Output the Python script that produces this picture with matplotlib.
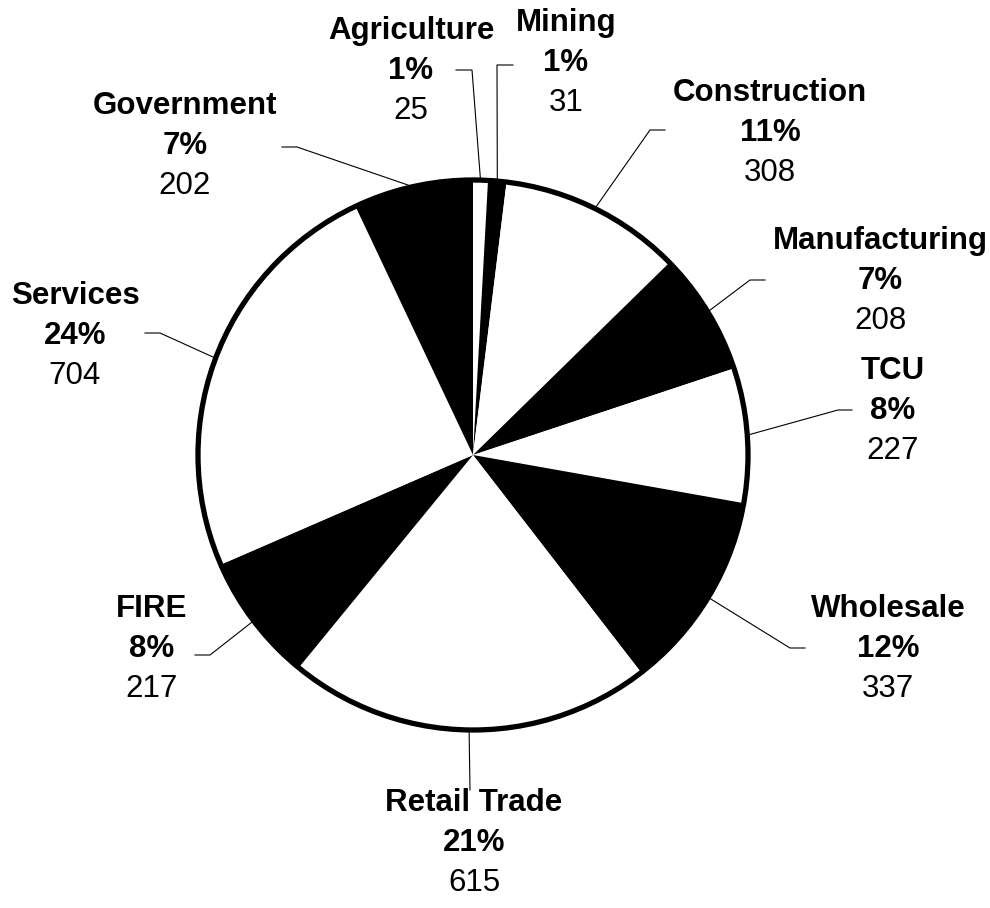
import numpy as np
import matplotlib.pyplot as plt
from matplotlib.patches import Circle

plt.rcParams['font.family'] = ['Liberation Sans', 'DejaVu Sans']

sectors = ["Agriculture", "Mining", "Construction", "Manufacturing", "TCU",
           "Wholesale", "Retail Trade", "FIRE", "Services", "Government"]
jobs = [25, 31, 308, 208, 227, 337, 615, 217, 704, 202]
pcts = ["1%", "1%", "11%", "7%", "8%", "12%", "21%", "8%", "24%", "7%"]

# layout (pixel coords, y from top): label centre x, top line y, elbow, end of leader
label_xy = [(411, 31), (566, 23), (770, 93), (880, 241), (893, 371),
            (888, 609), (474, 803), (152, 609), (75, 296), (185, 106)]
elbows = [(472, 70), (497, 65), (650, 130), (750, 280), (838, 410),
          (790, 648), (470, 790), (210, 655), (160, 333), (297, 147)]
ends = [(456, 70), (513, 65), (665, 130), (765, 280), (852, 410),
        (805, 648), (470, 790), (195, 655), (145, 333), (282, 147)]

W, H = 990, 908
cx, cy, R = 473, 455, 275

fig = plt.figure(figsize=(9.9, 9.08), dpi=100)
ax = fig.add_axes([0, 0, 1, 1])

colors = ['white' if i % 2 == 0 else 'black' for i in range(len(jobs))]
ax.pie(jobs, colors=colors, startangle=90, counterclock=False,
       center=(cx, H - cy), radius=R, wedgeprops=dict(linewidth=0),
       frame=True)
ax.set_xlim(0, W)
ax.set_ylim(0, H)
ax.set_aspect('equal')
ax.axis('off')
ax.add_patch(Circle((cx, H - cy), R, fill=False, edgecolor='black', lw=3.8, zorder=3))

total = sum(jobs)
cum = np.cumsum([0] + jobs)
for i, name in enumerate(sectors):
    mid = (cum[i] + jobs[i] / 2) / total * 2 * np.pi
    sx = cx + R * np.sin(mid)
    sy = cy - R * np.cos(mid)
    ex, ey = elbows[i]
    tx, ty = ends[i]
    ax.plot([sx, ex, tx], [H - sy, H - ey, H - ty], color='black', lw=0.8, zorder=2)
    lx, ly = label_xy[i]
    ax.text(lx, H - ly, name, ha='center', va='center', fontsize=22.5, fontweight='bold')
    ax.text(lx, H - ly - 40, pcts[i], ha='center', va='center', fontsize=22.5, fontweight='bold')
    ax.text(lx, H - ly - 80, str(jobs[i]), ha='center', va='center', fontsize=22.5)

fig.savefig("out.png", dpi=100)
